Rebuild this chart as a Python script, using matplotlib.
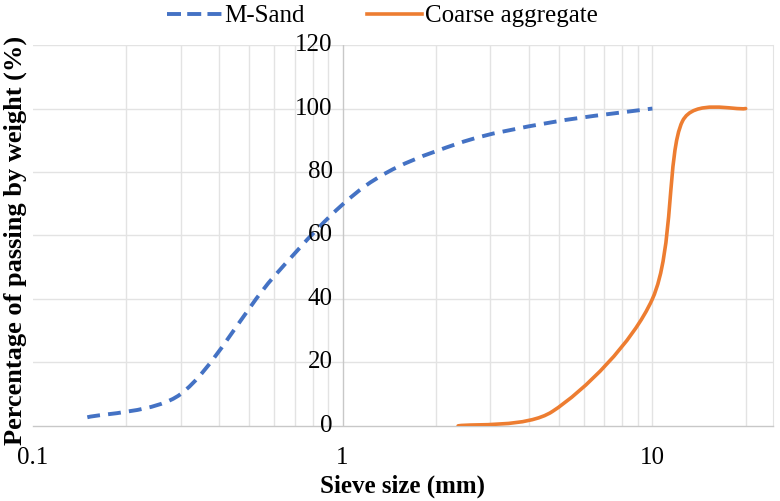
import numpy as np
import matplotlib
matplotlib.use("Agg")
import matplotlib.pyplot as plt
from matplotlib.path import Path
from matplotlib.patches import PathPatch
from matplotlib.lines import Line2D

# Data
sand_size = [0.15, 0.3, 0.6, 1.18, 2.36, 4.75, 10]
sand_pass = [2.7, 10, 47, 75.5, 89, 95.7, 100]
coarse_size = [2.36, 4.75, 10, 12.5, 20]
coarse_pass = [0, 4.5, 40, 96, 100]
y_ticks = [0, 20, 40, 60, 80, 100, 120]
x_ticks = [0.1, 1, 10]
x_ticklabels = ["0.1", "1", "10"]

plt.rcParams['font.family'] = ['Liberation Serif', 'DejaVu Serif']

fig = plt.figure(figsize=(7.8, 5.01), dpi=100)
ax = fig.add_axes([0.042, 0.150, 0.949, 0.760])
ax.set_xscale('log')
ax.set_xlim(0.1, 24.5)
ax.set_ylim(0, 120)

SX, SY = 310.0, 3.175  # approx pixels per decade / per unit, for smoothing shape


def smooth_path(xs, ys):
    # Excel-like smoothed line: chord-scaled Catmull-Rom bezier in screen-like space
    P = np.column_stack([np.log10(np.asarray(xs, float)) * SX,
                         np.asarray(ys, float) * SY])
    n = len(P)
    d = np.linalg.norm(np.diff(P, axis=0), axis=1)
    verts = [tuple(P[0])]
    codes = [Path.MOVETO]
    f = 1.0 / 6.0
    for i in range(n - 1):
        p0 = P[max(i - 1, 0)]
        p1 = P[i]
        p2 = P[i + 1]
        p3 = P[min(i + 2, n - 1)]
        if i > 0:
            r1 = np.sqrt(min(1.0, 2 * d[i] / (d[i - 1] + d[i])))
        else:
            r1 = 1.0
        if i + 2 <= n - 1:
            r2 = min(1.0, 2 * d[i] / (d[i] + d[i + 1]))
        else:
            r2 = 1.0
        c1 = p1 + (p2 - p0) * f * r1
        c2 = p2 - (p3 - p1) * f * r2
        verts += [tuple(c1), tuple(c2), tuple(p2)]
        codes += [Path.CURVE4] * 3
    verts = [(10 ** (vx / SX), vy / SY) for vx, vy in verts]
    return Path(verts, codes)


blue = '#4472C4'
orange = '#ED7D31'
p1 = PathPatch(smooth_path(sand_size, sand_pass), fill=False, edgecolor=blue,
               lw=2.8, linestyle=(0, (3.3, 2.1)), capstyle='butt', zorder=3)
p2 = PathPatch(smooth_path(coarse_size, coarse_pass), fill=False, edgecolor=orange,
               lw=2.6, zorder=3, capstyle='round')
ax.add_patch(p1)
ax.add_patch(p2)

# grid
gc = '#e3e3e3'
for y in y_ticks[1:]:
    ax.axhline(y, color=gc, lw=1.0, zorder=1)
vlines = [k * 0.1 for k in range(2, 10)] + [k * 1.0 for k in range(2, 10)] + [10, 20]
for xv in vlines:
    ax.axvline(xv, color=gc, lw=1.0, zorder=1)

for s in ['top', 'left']:
    ax.spines[s].set_visible(False)
ax.spines['right'].set_color(gc)
ax.spines['bottom'].set_color('#c8c8c8')
ax.spines['bottom'].set_linewidth(1.0)
ax.axvline(1, color='#c8c8c8', lw=1.0, zorder=2)

ax.set_xticks(x_ticks)
ax.set_xticklabels(x_ticklabels)
ax.xaxis.set_minor_locator(matplotlib.ticker.NullLocator())
ax.tick_params(axis='x', length=0, pad=15, labelsize=18)
ax.set_yticks([])
for y in y_ticks:
    ax.text(0.928, y, str(y), ha='right', va='center', fontsize=18,
            transform=ax.transData)

ax.set_xlabel('Sieve size (mm)', fontsize=18, fontweight='bold', labelpad=4)
fig.text(0.019, 0.521, 'Percentage of passing by weight (%)', rotation=90,
         ha='center', va='center', fontsize=19, fontweight='bold')

handles = [Line2D([], [], color=blue, lw=2.8, linestyle=(0, (3.6, 1.6))),
           Line2D([], [], color=orange, lw=2.6)]
fig.legend(handles, ['M-Sand', 'Coarse aggregate'], loc='center',
           bbox_to_anchor=(0.49, 0.968), ncol=2, frameon=False, fontsize=18,
           handlelength=2.2, handletextpad=0.1, columnspacing=2.5)

fig.savefig('out.png', dpi=100)
